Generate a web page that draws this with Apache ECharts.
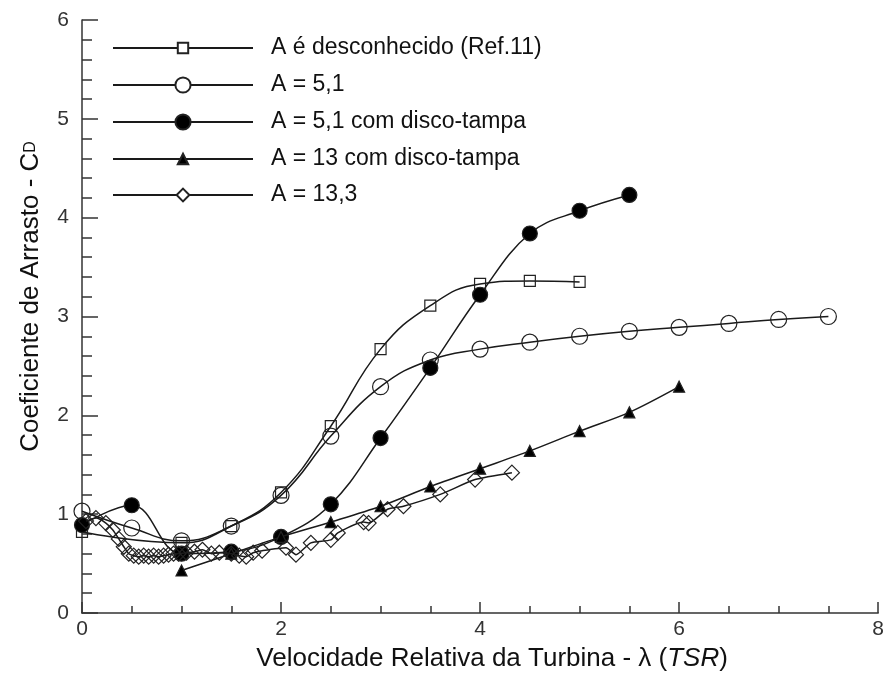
<!DOCTYPE html>
<html>
<head>
<meta charset="utf-8">
<script src="https://cdn.jsdelivr.net/npm/echarts@6/dist/echarts.min.js"></script>
<style>
html,body{margin:0;padding:0;background:#fff;}
#chart{width:887px;height:678px;}
</style>
</head>
<body>
<div id="chart"></div>
<script>
// ---- data ----
const seriesNames = [
  'A é desconhecido (Ref.11)',
  'A = 5,1',
  'A = 5,1 com disco-tampa',
  'A = 13 com disco-tampa',
  'A = 13,3'
];
const xTicks = [0, 2, 4, 6, 8];
const yTicks = [0, 1, 2, 3, 4, 5, 6];

const xSquare = [0, 1, 1.5, 2, 2.5, 3, 3.5, 4, 4.5, 5];
const ySquare = [0.82, 0.71, 0.88, 1.22, 1.89, 2.67, 3.11, 3.33, 3.36, 3.35];

const xCircle = [0, 0.5, 1, 1.5, 2, 2.5, 3, 3.5, 4, 4.5, 5, 5.5, 6, 6.5, 7, 7.5];
const yCircle = [1.03, 0.86, 0.73, 0.88, 1.19, 1.79, 2.29, 2.56, 2.67, 2.74, 2.80, 2.85, 2.89, 2.93, 2.97, 3.00];

const xFilled = [0, 0.5, 1, 1.5, 2, 2.5, 3, 3.5, 4, 4.5, 5, 5.5];
const yFilled = [0.89, 1.09, 0.60, 0.62, 0.77, 1.10, 1.77, 2.48, 3.22, 3.84, 4.07, 4.23];

const xTriangle = [1, 1.5, 2, 2.5, 3, 3.5, 4, 4.5, 5, 5.5, 6];
const yTriangle = [0.43, 0.60, 0.77, 0.92, 1.08, 1.28, 1.46, 1.64, 1.84, 2.03, 2.29];

const xDiamond = [0.04, 0.14, 0.24, 0.31, 0.37, 0.42, 0.47, 0.52, 0.57, 0.62, 0.67, 0.72, 0.77, 0.82, 0.87, 0.92, 0.97, 1.05, 1.13, 1.21, 1.30, 1.38, 1.50, 1.58, 1.65, 1.72, 1.81, 2.05, 2.15, 2.30, 2.50, 2.57, 2.83, 2.88, 3.07, 3.23, 3.60, 3.95, 4.32];
const yDiamond = [0.93, 0.96, 0.91, 0.84, 0.75, 0.67, 0.60, 0.58, 0.57, 0.58, 0.57, 0.58, 0.57, 0.58, 0.59, 0.60, 0.60, 0.61, 0.62, 0.64, 0.60, 0.61, 0.60, 0.58, 0.57, 0.61, 0.63, 0.66, 0.59, 0.71, 0.74, 0.81, 0.92, 0.91, 1.05, 1.08, 1.20, 1.35, 1.42];

// ---- build ----
const FONT = "'Liberation Sans', Arial, sans-serif";
function pairs(xs, ys) { return xs.map((x, i) => [x, ys[i]]); }

const styles = [
  { symbol: 'rect', size: 11, fill: 'rgba(0,0,0,0)', smooth: 0.45, legendH: 13 },
  { symbol: 'circle', size: 16, fill: 'rgba(0,0,0,0)', smooth: 0.45, legendH: 19 },
  { symbol: 'circle', size: 15, fill: '#000', smooth: 0.4, legendH: 19 },
  { symbol: 'triangle', size: 11, fill: '#000', smooth: 0.3, legendH: 13 },
  { symbol: 'diamond', size: 15, fill: 'rgba(0,0,0,0)', smooth: 0.2, legendH: 16 }
];
const dataSets = [
  pairs(xSquare, ySquare),
  pairs(xCircle, yCircle),
  pairs(xFilled, yFilled),
  pairs(xTriangle, yTriangle),
  pairs(xDiamond, yDiamond)
];
const rowCenters = [48, 85, 122, 159, 195];

const series = seriesNames.map((name, i) => ({
  name: name,
  type: 'line',
  data: dataSets[i],
  symbol: styles[i].symbol,
  symbolSize: styles[i].size,
  smooth: styles[i].smooth,
  showAllSymbol: true,
  lineStyle: { color: '#1a1a1a', width: 1.5 },
  itemStyle: { color: styles[i].fill, borderColor: '#222', borderWidth: 1.2 },
  emphasis: { disabled: true },
  animation: false,
  z: 2 + i
}));

const legends = seriesNames.map((name, i) => ({
  data: [{ name: name, itemStyle: { color: styles[i].fill === '#000' ? '#000' : '#fff' } }],
  left: 112,
  top: rowCenters[i] - 13,
  orient: 'vertical',
  padding: 0,
  itemWidth: 140,
  itemHeight: styles[i].legendH,
  selectedMode: false,
  textStyle: { fontFamily: FONT, fontSize: 23, color: '#111', lineHeight: 26, padding: [0, 0, 0, 13] }
}));

const option = {
  backgroundColor: '#fff',
  animation: false,
  grid: { left: 82, right: 5, top: 20, bottom: 65, containLabel: false },
  legend: legends,
  xAxis: {
    type: 'value',
    min: xTicks[0], max: xTicks[xTicks.length - 1], interval: xTicks[1] - xTicks[0],
    name: '{a|Velocidade Relativa da Turbina - λ (}{i|TSR}{a|)}',
    nameLocation: 'middle',
    nameGap: 33,
    nameTextStyle: {
      padding: [0, 0, 0, 24],
      rich: {
        a: { fontFamily: FONT, fontSize: 26, color: '#111' },
        i: { fontFamily: FONT, fontSize: 26, color: '#111', fontStyle: 'italic' }
      }
    },
    axisLine: { lineStyle: { color: '#333', width: 1.5 } },
    axisTick: { inside: true, length: 11, lineStyle: { color: '#333', width: 1.5 } },
    minorTick: { show: true, splitNumber: 4, length: 7, lineStyle: { color: '#333', width: 1.5 } },
    axisLabel: { fontFamily: FONT, fontSize: 21, color: '#333', margin: 6 },
    splitLine: { show: false }
  },
  yAxis: {
    type: 'value',
    min: yTicks[0], max: yTicks[yTicks.length - 1], interval: yTicks[1] - yTicks[0],
    name: '{a|Coeficiente de Arrasto - C}{s|D}',
    nameLocation: 'middle',
    nameGap: 38,
    nameRotate: 90,
    nameTextStyle: {
      padding: [0, 0, 0, 40],
      rich: {
        a: { fontFamily: FONT, fontSize: 26, color: '#111' },
        s: { fontFamily: FONT, fontSize: 16, color: '#111' }
      }
    },
    axisLine: { show: true, lineStyle: { color: '#333', width: 1.5 } },
    axisTick: { show: true, inside: true, length: 16, lineStyle: { color: '#333', width: 1.5 } },
    minorTick: { show: true, splitNumber: 5, length: 10, lineStyle: { color: '#333', width: 1.5 } },
    axisLabel: { fontFamily: FONT, fontSize: 21, color: '#333', margin: 13 },
    splitLine: { show: false }
  },
  series: series
};

const chart = echarts.init(document.getElementById('chart'), null, { renderer: 'canvas' });
chart.setOption(option);
</script>
</body>
</html>
